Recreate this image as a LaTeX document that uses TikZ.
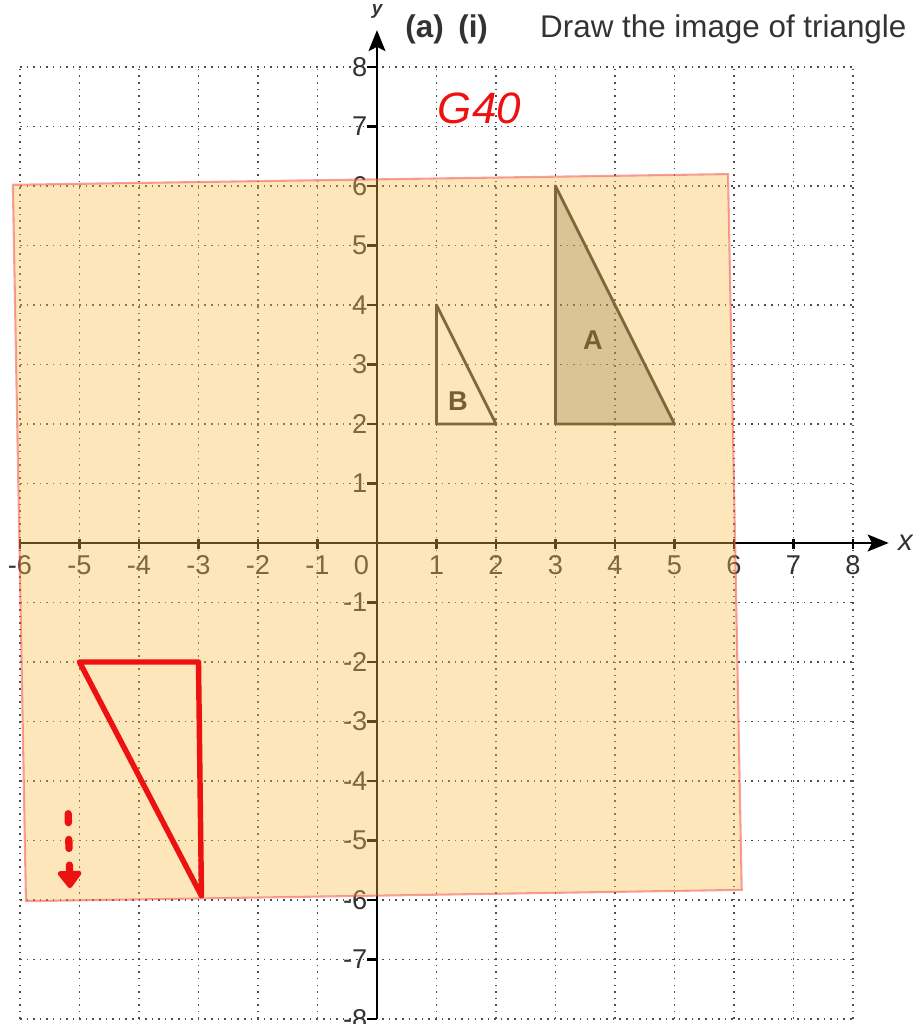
\documentclass[tikz,border=0pt]{standalone}
\usepackage{fontspec}
\setmainfont{Liberation Sans}
\usetikzlibrary{arrows.meta}
\definecolor{gridgray}{HTML}{4D4D4D}
\definecolor{labgray}{HTML}{333333}
\definecolor{sheetorange}{RGB}{250,190,70}
\definecolor{sheetborder}{RGB}{240,70,70}
\definecolor{penred}{HTML}{EE1111}

\begin{document}
\begin{tikzpicture}[
  font=\fontsize{13}{15}\selectfont,
  gridline/.style={gridgray, line width=0.75pt, dash pattern=on 0.75pt off 2.4pt},
  axis/.style={black, line width=1.4pt, -{Stealth[length=10pt, width=8pt, inset=2pt]}},
  tickmark/.style={black, line width=1.2pt},
  ticklab/.style={text=labgray, inner sep=1pt},
  tri/.style={draw=black!80, line width=1.3pt, line join=round},
  trilab/.style={text=black!85, font=\fontsize{13}{15}\selectfont\bfseries},
  sheet/.style={draw=sheetborder, draw opacity=0.5, line width=1pt, fill=sheetorange, fill opacity=0.38},
  answer/.style={draw=penred, line width=2.6pt, line join=round},
  hint/.style={penred, line width=3.5pt, line cap=round, dash pattern=on 4.3pt off 8pt,
    -{Triangle[length=9pt, width=13pt, round]}}
]
\useasboundingbox (-6.336,-8.084) rectangle (8.992,9.126);

% shaded triangle A under the grid
\fill[black!22] (3,6) -- (3,2) -- (5,2) -- cycle;

% dotted grid
\foreach \i in {-6,...,8}
  \draw[gridline] (\i,-8) -- (\i,8);
\foreach \j in {-8,...,8}
  \draw[gridline] (-6,\j) -- (8,\j);

% triangles A and B
\draw[tri] (3,6) -- (3,2) -- (5,2) -- cycle;
\draw[tri] (1,4) -- (1,2) -- (2,2) -- cycle;
\node[trilab] (labA) at (3.63,3.41) {A};
\node[trilab] (labB) at (1.36,2.38) {B};

% axes
\coordinate (xstart) at (-6,0);
\coordinate (xend) at (8.6,0);
\coordinate (ystart) at (0,-8);
\coordinate (yend) at (0,8.62);
\draw[axis] (xstart) -- (xend);
\draw[axis] (ystart) -- (yend);
\node[font=\fontsize{14}{16}\selectfont\itshape, text=labgray] (xlab) at (8.88,0) {x};
\node[font=\fontsize{9}{10}\selectfont\bfseries\itshape, text=labgray] (ylab) at (0,8.93) {y};

\foreach \i in {-6,...,-1,1,2,...,8} {
  \draw[tickmark] (\i,0.06) -- (\i,-0.1);
  \node[ticklab, anchor=north] (xt\i) at (\i,-0.17) {\i};
}
\foreach \j in {-8,...,-1,1,2,...,8} {
  \draw[tickmark] (-0.16,\j) -- (0,\j);
  \node[ticklab, anchor=east] (yt\j) at (-0.12,\j) {\j};
}
\node[ticklab] (origin) at (-0.26,-0.38) {0};

% tracing paper laid over the grid
\draw[sheet] (-6.12,6.02) -- (5.90,6.20) -- (6.13,-5.83) -- (-5.90,-6.02) -- cycle;

% pupil's answer
\draw[answer] (-5,-2) -- (-3,-2) -- (-2.95,-5.93) -- cycle;
\coordinate (hinttop) at (-5.19,-4.55);
\coordinate (hintend) at (-5.16,-5.8);
\draw[hint] (hinttop) -- (hintend);

\node[text=penred, font=\fontsize{21}{24}\selectfont\itshape] (mark) at (1.72,7.31) {G40};

% question text
\node[anchor=west, text=labgray, inner sep=0pt, font=\fontsize{15}{17}\selectfont] (question) at (0.47,8.64)
  {\textbf{(a)}\hspace*{7pt}\textbf{(i)}\hspace*{25pt}Draw the image of triangle};
\end{tikzpicture}
\end{document}
